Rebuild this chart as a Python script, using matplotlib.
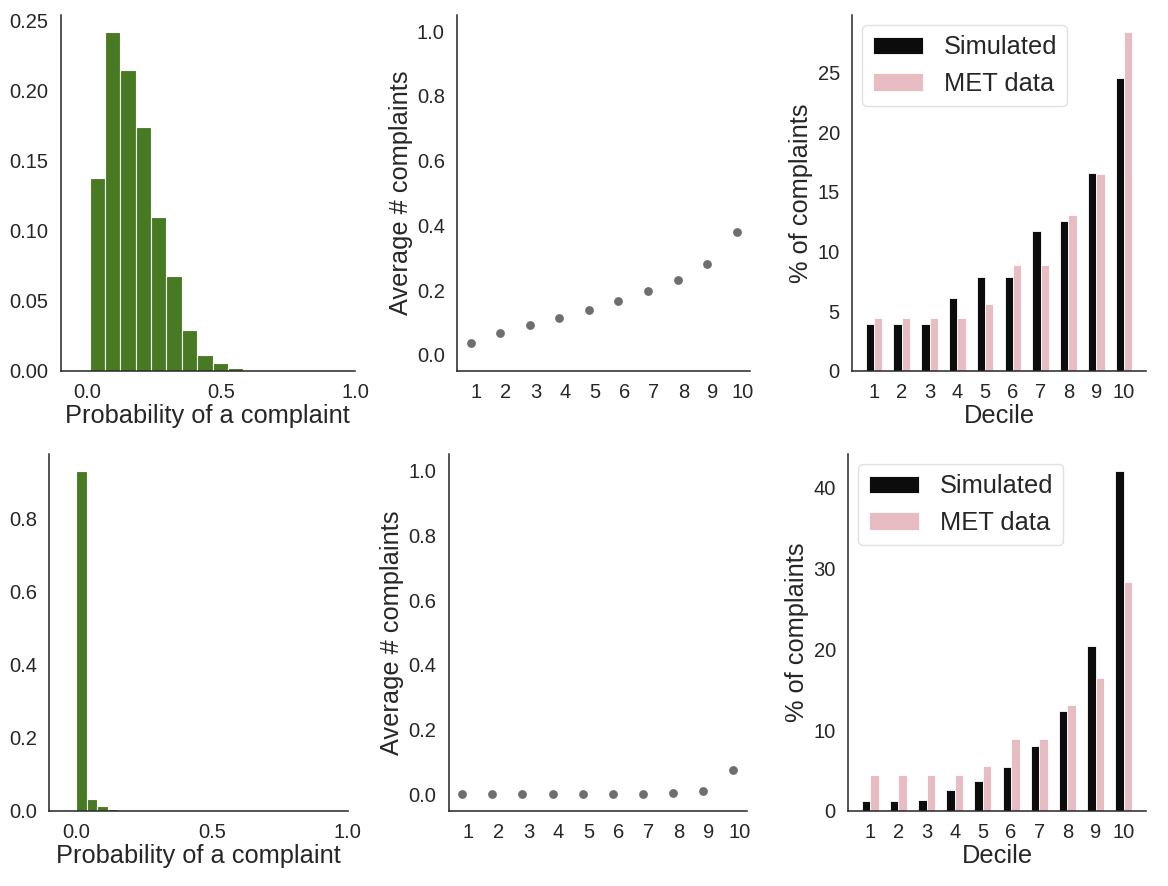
import matplotlib
matplotlib.use("Agg")
import matplotlib.pyplot as plt
import numpy as np

plt.rcParams['font.family'] = ['Liberation Sans', 'DejaVu Sans']
plt.rcParams['text.color'] = '#262626'
plt.rcParams['axes.labelcolor'] = '#262626'
plt.rcParams['xtick.color'] = '#262626'
plt.rcParams['ytick.color'] = '#262626'

# ===== DATA =====
# histogram of complaint probability (fraction of officers per bin)
top_bin_edges = [0.0075, 0.065, 0.1225, 0.18, 0.2375, 0.295, 0.3525, 0.41, 0.4675, 0.525, 0.5825]
top_bin_frac = [0.138, 0.242, 0.215, 0.174, 0.110, 0.068, 0.029, 0.0115, 0.0055, 0.0019]

bot_bin_edges = [0.0, 0.0387, 0.0774, 0.1161, 0.1548]
bot_bin_frac = [0.930, 0.034, 0.014, 0.004]

deciles = [1, 2, 3, 4, 5, 6, 7, 8, 9, 10]

top_avg_complaints = [0.036, 0.066, 0.093, 0.115, 0.139, 0.166, 0.197, 0.232, 0.282, 0.379]
bot_avg_complaints = [0.001, 0.001, 0.001, 0.001, 0.001, 0.001, 0.001, 0.006, 0.013, 0.075]

top_sim_pct = [3.9, 3.9, 3.9, 6.1, 7.9, 7.9, 11.7, 12.6, 16.6, 24.5]
bot_sim_pct = [1.25, 1.25, 1.35, 2.6, 3.7, 5.4, 8.1, 12.4, 20.4, 42.1]
met_pct = [4.4, 4.4, 4.4, 4.4, 5.6, 8.9, 8.9, 13.1, 16.5, 28.4]

GREEN = '#487a23'
GRAY = '#6e6e6e'
BLACK = '#0c0c0c'
PINK = '#e8bcc3'

TICK_FS = 14.5
LABEL_FS = 18.3
LEGEND_FS = 18.3

fig = plt.figure(figsize=(11.68, 8.86), dpi=100)

positions = {
    'tl': [0.0520, 0.5813, 0.2520, 0.4018],
    'tm': [0.3915, 0.5813, 0.2506, 0.4018],
    'tr': [0.7297, 0.5813, 0.2512, 0.4018],
    'bl': [0.0422, 0.0847, 0.2555, 0.4029],
    'bm': [0.3842, 0.0847, 0.2551, 0.4029],
    'br': [0.7263, 0.0847, 0.2546, 0.4029],
}


def style(ax):
    for s in ['top', 'right']:
        ax.spines[s].set_visible(False)
    for s in ['left', 'bottom']:
        ax.spines[s].set_color('#262626')
        ax.spines[s].set_linewidth(1.1)
    ax.tick_params(length=0, pad=9, labelsize=TICK_FS)


def hist(ax, edges, frac):
    widths = np.diff(edges)
    ax.bar(edges[:-1], frac, width=widths, align='edge', color=GREEN,
           edgecolor='white', linewidth=0.8)
    ax.set_xlim(-0.1, 1.0)
    ax.set_xticks([0.0, 0.5, 1.0])
    ax.set_xlabel('Probability of a complaint', fontsize=LABEL_FS, labelpad=1)
    style(ax)


def avg(ax, vals):
    ax.scatter(deciles, vals, s=40, color=GRAY, zorder=3, linewidths=0)
    ax.set_ylim(-0.05, 1.05)
    ax.set_xticks(np.array(deciles) + 0.2)
    ax.set_xticklabels([str(d) for d in deciles])
    ax.set_ylabel('Average # complaints', fontsize=LABEL_FS, labelpad=3)
    style(ax)


def bars(ax, sim, met):
    x = np.array(deciles)
    w = 0.3
    ax.bar(x - w / 2, sim, w, color=BLACK, edgecolor='white', linewidth=0.6, label='Simulated')
    ax.bar(x + w / 2, met, w, color=PINK, edgecolor='white', linewidth=0.6, label='MET data')
    ax.set_xticks(x)
    ax.set_xticklabels([str(d) for d in deciles])
    ax.set_xlabel('Decile', fontsize=LABEL_FS, labelpad=1)
    ax.set_ylabel('% of complaints', fontsize=LABEL_FS, labelpad=3)
    ax.legend(loc='upper left', fontsize=LEGEND_FS, frameon=True, edgecolor='#d9d9d9',
              handlelength=2.0, borderaxespad=0.4)
    style(ax)


ax = fig.add_axes(positions['tl'])
hist(ax, top_bin_edges, top_bin_frac)
ax.set_yticks([0.0, 0.05, 0.10, 0.15, 0.20, 0.25])
ax.set_yticklabels(['0.00', '0.05', '0.10', '0.15', '0.20', '0.25'])

ax = fig.add_axes(positions['bl'])
hist(ax, bot_bin_edges, bot_bin_frac)

ax = fig.add_axes(positions['tm'])
avg(ax, top_avg_complaints)

ax = fig.add_axes(positions['bm'])
avg(ax, bot_avg_complaints)

ax = fig.add_axes(positions['tr'])
bars(ax, top_sim_pct, met_pct)
ax.set_yticks([0, 5, 10, 15, 20, 25])

ax = fig.add_axes(positions['br'])
bars(ax, bot_sim_pct, met_pct)
ax.set_yticks([0, 10, 20, 30, 40])

fig.savefig('out.png', dpi=100)
